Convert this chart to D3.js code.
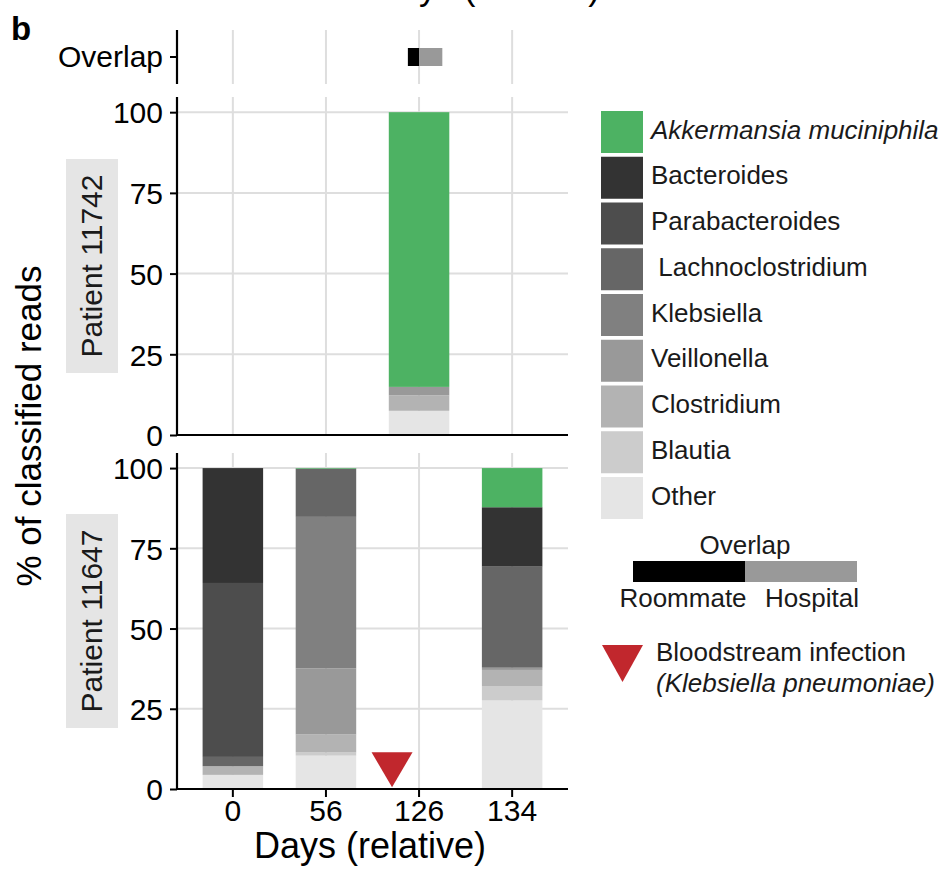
<!DOCTYPE html>
<html>
<head>
<meta charset="utf-8">
<script src="https://cdn.jsdelivr.net/npm/d3@7"></script>
<style>
  html, body { margin: 0; padding: 0; background: #fff; }
  svg { display: block; font-family: "Liberation Sans", Arial, sans-serif; }
</style>
</head>
<body>
<svg id="chart" width="946" height="869"></svg>
<script>
// ---------- DATA ----------
const days = ["0", "56", "126", "134"];
const taxa = ["Other", "Blautia", "Clostridium", "Veillonella", "Klebsiella",
              "Lachnoclostridium", "Parabacteroides", "Bacteroides", "Akkermansia muciniphila"];
const taxaColors = ["#e5e5e5", "#cccccc", "#b3b3b3", "#999999", "#808080",
                    "#666666", "#4d4d4d", "#333333", "#4db263"];
const legendLabels = ["Akkermansia muciniphila", "Bacteroides", "Parabacteroides", " Lachnoclostridium",
                      "Klebsiella", "Veillonella", "Clostridium", "Blautia", "Other"];
const patients = ["Patient 11742", "Patient 11647"];
// percent per taxon (order of `taxa`), one array per day
const patient11742 = {
  "126": [7.5, 0, 4.8, 2.6, 0, 0, 0, 0, 85.1]
};
const patient11647 = {
  "0":   [4.4, 0, 2.7, 0, 0, 2.9, 54.2, 35.8, 0],
  "56":  [10.4, 1.0, 5.6, 20.6, 47.2, 15.0, 0, 0, 0.2],
  "134": [27.6, 4.5, 5.0, 0.7, 0, 31.5, 0, 18.5, 12.2]
};
const yTicks = [0, 25, 50, 75, 100];
// overlap segments, in day-category index units
const overlapSegments = [
  { type: "Roommate", start: 1.88, end: 2.0, color: "#000000" },
  { type: "Hospital", start: 2.0, end: 2.25, color: "#999999" }
];
// bloodstream infection marker (category index position, % value)
const infection = [{ pos: 1.71, value: 6 }];
const infectionColor = "#c1272d";

// ---------- LAYOUT ----------
const svg = d3.select("#chart");
const left = 177, right = 568;
const xIdx = d3.scaleLinear().domain([-0.6, days.length - 1 + 0.6]).range([left, right]);
const barW = xIdx(0.65) - xIdx(0);
const panels = [
  { name: patients[0], data: patient11742, top: 97, bottom: 435, showX: false },
  { name: patients[1], data: patient11647, top: 453, bottom: 789, showX: true }
];
const gridColor = "#dedede";
const tickFont = 30;

// top cut-off title from the figure above
svg.append("text").attr("x", 487).attr("y", 0).attr("text-anchor", "middle")
  .attr("font-size", 35).attr("fill", "#000").text("Days (relative)");
// panel letter
svg.append("text").attr("x", 11).attr("y", 40).attr("font-size", 33)
  .attr("font-weight", "bold").text("b");

// ---------- OVERLAP ROW ----------
const ovTop = 30, ovBottom = 84, ovY = 57;
const gOv = svg.append("g");
gOv.selectAll("line.vg").data(days).join("line")
  .attr("x1", (d, i) => xIdx(i)).attr("x2", (d, i) => xIdx(i))
  .attr("y1", ovTop).attr("y2", ovBottom)
  .attr("stroke", gridColor).attr("stroke-width", 2);
gOv.selectAll("rect").data(overlapSegments).join("rect")
  .attr("x", d => xIdx(d.start)).attr("width", d => xIdx(d.end) - xIdx(d.start))
  .attr("y", ovY - 9).attr("height", 18).attr("fill", d => d.color);
gOv.append("line").attr("x1", left).attr("x2", left).attr("y1", ovTop).attr("y2", ovBottom)
  .attr("stroke", "#000").attr("stroke-width", 2.2);
gOv.append("line").attr("x1", left - 7).attr("x2", left).attr("y1", ovY).attr("y2", ovY)
  .attr("stroke", "#000").attr("stroke-width", 2);
gOv.append("text").attr("x", 163).attr("y", ovY + 10).attr("text-anchor", "end")
  .attr("font-size", tickFont).text("Overlap");

// ---------- PANELS ----------
panels.forEach(p => {
  const y = d3.scaleLinear().domain([0, 104.7]).range([p.bottom, p.top]);
  const g = svg.append("g");
  // gridlines
  g.selectAll("line.hg").data(yTicks).join("line")
    .attr("x1", left).attr("x2", right).attr("y1", d => y(d)).attr("y2", d => y(d))
    .attr("stroke", gridColor).attr("stroke-width", 2);
  g.selectAll("line.vg").data(days).join("line")
    .attr("x1", (d, i) => xIdx(i)).attr("x2", (d, i) => xIdx(i))
    .attr("y1", p.top).attr("y2", p.bottom)
    .attr("stroke", gridColor).attr("stroke-width", 2);
  // stacked bars
  const rows = days.filter(d => p.data[d]).map(d => {
    const o = { day: d };
    taxa.forEach((t, k) => o[t] = p.data[d][k]);
    return o;
  });
  const series = d3.stack().keys(taxa)(rows);
  series.forEach((s, k) => {
    g.selectAll(null).data(s).join("rect")
      .attr("x", d => xIdx(days.indexOf(d.data.day)) - barW / 2)
      .attr("width", barW)
      .attr("y", d => y(d[1]))
      .attr("height", d => Math.max(0, y(d[0]) - y(d[1])))
      .attr("fill", taxaColors[k]);
  });
  // infection marker
  if (p.showX) {
    g.selectAll("path.inf").data(infection).join("path")
      .attr("d", d => {
        const cx = xIdx(d.pos), cy = y(d.value);
        return `M${cx - 20.5},${cy - 17.5}L${cx + 20.5},${cy - 17.5}L${cx},${cy + 17.5}Z`;
      })
      .attr("fill", infectionColor);
  }
  // y axis
  const yAxis = d3.axisLeft(y).tickValues(yTicks).tickSize(7).tickPadding(7);
  const ga = g.append("g").attr("transform", `translate(${left},0)`).call(yAxis);
  ga.select(".domain").remove();
  ga.selectAll(".tick line").attr("stroke", "#000").attr("stroke-width", 2);
  ga.selectAll(".tick text").attr("font-size", tickFont).attr("font-family", "Liberation Sans, Arial, sans-serif")
    .attr("fill", "#000").attr("dy", "0.36em");
  g.append("line").attr("x1", left).attr("x2", left).attr("y1", p.top).attr("y2", p.bottom + 1)
    .attr("stroke", "#000").attr("stroke-width", 2.2);
  g.append("line").attr("x1", left - 1).attr("x2", right).attr("y1", p.bottom).attr("y2", p.bottom)
    .attr("stroke", "#000").attr("stroke-width", 2.2);
  // x axis ticks
  if (p.showX) {
    const xb = d3.scaleBand().domain(days).range([xIdx(-0.5), xIdx(days.length - 0.5)]);
    const xAxis = d3.axisBottom(xb).tickSize(8).tickPadding(3);
    const gx = g.append("g").attr("transform", `translate(0,${p.bottom})`).call(xAxis);
    gx.select(".domain").remove();
    gx.selectAll(".tick line").attr("stroke", "#000").attr("stroke-width", 2);
    gx.selectAll(".tick text").attr("font-size", tickFont).attr("font-family", "Liberation Sans, Arial, sans-serif")
      .attr("fill", "#000");
  }
  // strip
  const cy = (p.top + p.bottom) / 2;
  g.append("rect").attr("x", 66).attr("y", cy - 107).attr("width", 52).attr("height", 214)
    .attr("fill", "#e5e5e5");
  g.append("text").attr("transform", `translate(102,${cy}) rotate(-90)`)
    .attr("text-anchor", "middle").attr("font-size", 30).attr("fill", "#1a1a1a").text(p.name);
});

// axis titles
svg.append("text").attr("x", 370).attr("y", 858).attr("text-anchor", "middle")
  .attr("font-size", 36).text("Days (relative)");
svg.append("text").attr("transform", "translate(41,426) rotate(-90)")
  .attr("text-anchor", "middle").attr("font-size", 35).text("% of classified reads");

// ---------- LEGEND ----------
const lg = svg.append("g");
const keyColor = name => taxaColors[taxa.indexOf(name.trim())];
legendLabels.forEach((name, i) => {
  const ky = 111 + i * 45.75;
  lg.append("rect").attr("x", 601).attr("y", ky).attr("width", 42).attr("height", 42)
    .attr("fill", keyColor(name));
  lg.append("text").attr("x", 651).attr("y", ky + 21 + 6.5)
    .attr("font-size", 26).attr("fill", "#1a1a1a")
    .style("white-space", "pre")
    .attr("font-style", i === 0 ? "italic" : "normal").text(name);
});
// overlap legend
lg.append("text").attr("x", 745).attr("y", 554).attr("text-anchor", "middle")
  .attr("font-size", 26).attr("fill", "#1a1a1a").text("Overlap");
const legScale = d3.scaleLinear().domain([0, 2]).range([633, 857]);
lg.selectAll("rect.ov").data(overlapSegments).join("rect")
  .attr("x", (d, i) => legScale(i)).attr("width", legScale(1) - legScale(0))
  .attr("y", 561).attr("height", 21).attr("fill", d => d.color);
lg.selectAll("text.ov").data(overlapSegments).join("text")
  .attr("x", (d, i) => i === 0 ? 683 : 812).attr("y", 607).attr("text-anchor", "middle")
  .attr("font-size", 26).attr("fill", "#1a1a1a").text(d => d.type);
// infection legend
lg.append("path").attr("d", "M602,645L643,645L622.5,682Z").attr("fill", infectionColor);
lg.append("text").attr("x", 656).attr("y", 661).attr("font-size", 26).attr("fill", "#1a1a1a")
  .text("Bloodstream infection");
lg.append("text").attr("x", 656).attr("y", 692).attr("font-size", 26).attr("fill", "#1a1a1a")
  .attr("font-style", "italic").text("(Klebsiella pneumoniae)");
</script>
</body>
</html>
